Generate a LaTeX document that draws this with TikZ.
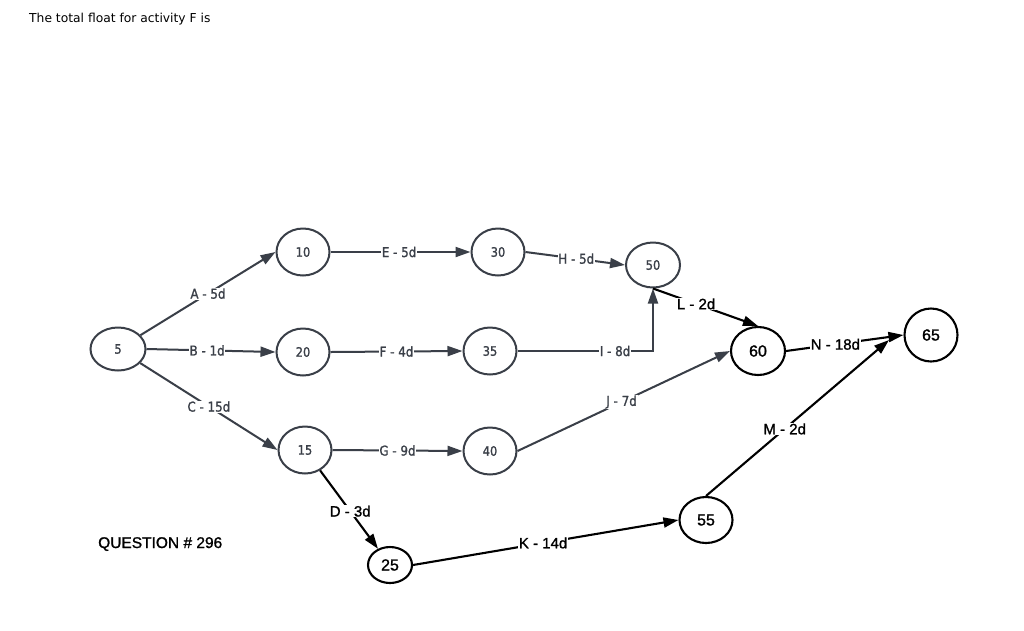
\documentclass[tikz,border=0pt]{standalone}
\usepackage{fontspec}
\setmainfont[FakeBold=1]{Liberation Sans}
\newfontfamily\blackfont[FakeBold=1.2]{Liberation Sans}
\newfontfamily\grayfont[FakeStretch=0.88,FakeBold=1.3]{DejaVu Sans}
\newfontfamily\topfont{DejaVu Sans}
\usetikzlibrary{shapes.geometric,arrows.meta}
\definecolor{gr}{HTML}{3A3F48}
\tikzset{
 gnode/.style={ellipse,draw=gr,line width=2pt,inner sep=0pt,minimum width=53pt,minimum height=47pt,text=gr,font=\grayfont\fontsize{13}{15}\selectfont},
 bnode/.style={ellipse,draw=black,line width=2.1pt,inner sep=0pt,text=black,font=\blackfont\fontsize{16}{18}\selectfont},
 garr/.style={draw=gr,line width=2pt,-{Triangle[length=15pt,width=10pt]}},
 barr/.style={draw=black,line width=2.1pt,-{Triangle[length=15pt,width=10pt]}},
 glab/.style={fill=white,inner sep=0.8pt,text=gr,font=\grayfont\fontsize{13.5}{15}\selectfont},
 blab/.style={fill=white,inner sep=0.8pt,text=black,font=\blackfont\fontsize{15}{17}\selectfont},
}
\begin{document}
\begin{tikzpicture}[x=1pt,y=-1pt]
\useasboundingbox (0,0) rectangle (1024,630);
\fill[white] (0,0) rectangle (1024,630);
\node[anchor=base west,inner sep=0pt,font=\topfont\fontsize{12.3}{14}\selectfont] (title) at (29,22.5) {The total float for activity F is};
\node[anchor=base west,inner sep=0pt,font=\blackfont\fontsize{15.5}{17}\selectfont] (quest) at (98,548) {QUESTION \# 296};

\node[gnode,minimum width=55pt,minimum height=43pt] (n5) at (118,349) {5};
\node[gnode] (n10) at (303,252) {10};
\node[gnode] (n20) at (303,352) {20};
\node[gnode] (n15) at (305,450) {15};
\node[gnode] (n30) at (498,252) {30};
\node[gnode] (n35) at (490,351) {35};
\node[gnode] (n40) at (490,451) {40};
\node[gnode,minimum width=54pt,minimum height=45pt] (n50) at (653,265) {50};
\node[bnode,minimum width=44pt,minimum height=36pt] (n25) at (390,565) {25};
\node[bnode,minimum width=53pt,minimum height=46pt] (n55) at (706,520) {55};
\node[bnode,minimum width=54pt,minimum height=48pt] (n60) at (758,351) {60};
\node[bnode,minimum width=53pt,minimum height=53pt] (n65) at (931,335) {65};

\coordinate (mend) at (889,340);

\draw[garr] (n5) -- (n10.west) node[glab,pos=0.5] (la) {A - 5d};
\draw[garr] (n5.east) -- (n20.west) node[glab,pos=0.47] (lb) {B - 1d};
\draw[garr] (n5) -- (n15.west) node[glab,pos=0.5] (lc) {C - 15d};
\draw[garr] (n10.east) -- (n30.west) node[glab,pos=0.49] (le) {E - 5d};
\draw[garr] (n20.east) -- (n35.west) node[glab,pos=0.5] (lf) {F - 4d};
\draw[garr] (n15.east) -- (n40.west) node[glab,pos=0.5] (lg) {G - 9d};
\draw[garr] (n30.east) -- (n50.west) node[glab,pos=0.51] (lh) {H - 5d};
\draw[garr] (n35.east) -| (n50.south) node[glab,pos=0.36] (li) {I - 8d};
\draw[garr] (n40.east) -- (n60.west) node[glab,pos=0.49] (lj) {J - 7d};
\draw[barr] (n15) -- (n25) node[blab,pos=0.52] (ld) {D - 3d};
\draw[barr] (n25.east) -- (n55.west) node[blab,pos=0.49] (lk) {K - 14d};
\draw[barr] (n50.south) -- (n60.north) node[blab,pos=0.41] (ll) {L - 2d};
\draw[barr] (n60.east) -- (n65.west) node[blab,pos=0.42] (ln) {N - 18d};
\draw[barr] (n55.north) -- (mend) node[blab,pos=0.43] (lm) {M - 2d};
\end{tikzpicture}
\end{document}
